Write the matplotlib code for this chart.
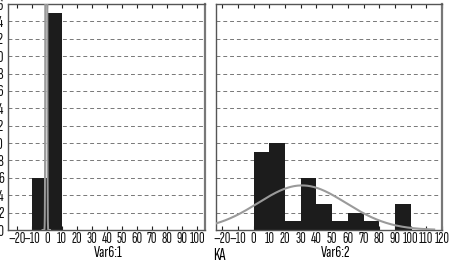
import numpy as np
import matplotlib
matplotlib.use("Agg")
import matplotlib.pyplot as plt

plt.rcParams['font.family'] = ['Sofia Sans Extra Condensed', 'Roboto Condensed', 'DejaVu Sans']

# Left histogram (Var6:1)
left_edges = [-10, 0]
left_counts = [6, 25]
left_width = 10
left_mean, left_sd = -0.5, 0.3
left_ticks = [-20, -10, 0, 10, 20, 30, 40, 50, 60, 70, 80, 90, 100]

# Right histogram (Var6:2)
right_edges = [0, 10, 20, 30, 40, 50, 60, 70, 80, 90]
right_counts = [9, 10, 1, 6, 3, 1, 2, 1, 0, 3]
right_width = 10
right_mean, right_sd = 30.8, 28.0
right_ticks = [-20, -10, 0, 10, 20, 30, 40, 50, 60, 70, 80, 90, 100, 110, 120]

y_ticks = list(range(0, 27, 2))
y_labels = [str(v) for v in y_ticks]

W, H = 452, 264
fig = plt.figure(figsize=(W / 100, H / 100), dpi=100)

def px(x0, x1, ytop, ybot):
    return [x0 / W, 1 - ybot / H, (x1 - x0) / W, (ybot - ytop) / H]

axL = fig.add_axes(px(8, 205.5, 4, 230))
axR = fig.add_axes(px(216, 442, 4, 230))

bar_col = '#1c1c1c'
curve_col = '#9a9a9a'

def style(ax, xlim, xticks, show_y):
    ax.set_xlim(*xlim)
    ax.set_ylim(0, 26)
    ax.set_xticks(xticks)
    ax.set_xticklabels([str(t).replace('-', '\u2013') for t in xticks], fontsize=11)
    ax.set_yticks(y_ticks)
    if show_y:
        ax.set_yticklabels(y_labels, fontsize=12)
    else:
        ax.set_yticklabels([])
    ax.tick_params(axis='x', direction='in', length=3, width=0.8, top=True,
                   bottom=True, pad=1.5, colors='#222222')
    ax.tick_params(axis='y', direction='in', length=0, pad=3, colors='#222222')
    for t in ax.get_xticklabels() + ax.get_yticklabels():
        t.set_color('#111111')
    for y in y_ticks[1:-1]:
        ax.axhline(y, color='#777777', lw=0.7, ls=(0, (4, 3)), zorder=1)
    for s in ax.spines.values():
        s.set_color('#555555')
        s.set_linewidth(1.0)
    ax.spines['right'].set_linewidth(1.6)
    ax.spines['right'].set_color('#777777')

style(axL, (-26, 105.5), left_ticks, True)
style(axR, (-24, 120), right_ticks, False)

axL.bar(left_edges, left_counts, width=left_width, align='edge', color=bar_col,
        edgecolor=bar_col, linewidth=0, zorder=2)
axR.bar(right_edges, right_counts, width=right_width, align='edge', color=bar_col,
        edgecolor=bar_col, linewidth=0, zorder=2)

def normal(x, m, s, n, w):
    return n * w / (s * np.sqrt(2 * np.pi)) * np.exp(-0.5 * ((x - m) / s) ** 2)

xl = np.linspace(-3, 2, 2000)
axL.plot(xl, normal(xl, left_mean, left_sd, sum(left_counts), left_width),
         color=curve_col, lw=1.4, zorder=3)
xr = np.linspace(-24, 115, 600)
axR.plot(xr, normal(xr, right_mean, right_sd, sum(right_counts), right_width),
         color=curve_col, lw=1.5, zorder=3)

fig.text(108 / W, 1 - 253 / H, 'Var6:1', ha='center', va='center', fontsize=12)
fig.text(336 / W, 1 - 253 / H, 'Var6:2', ha='center', va='center', fontsize=12)
fig.text(219 / W, 1 - 256 / H, 'KA', ha='center', va='center', fontsize=12.5)

fig.savefig('out.png', dpi=100)
